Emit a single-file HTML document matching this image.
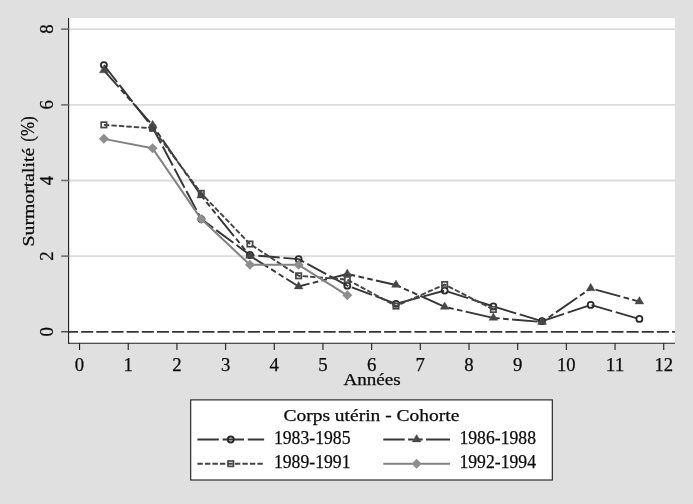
<!DOCTYPE html>
<html lang="fr"><head><meta charset="utf-8"><title>Surmortalité - Corps utérin - Cohorte</title>
<style>html,body{margin:0;padding:0;background:#e0e0e0;}body{width:693px;height:504px;overflow:hidden;font-family:"Liberation Serif",serif;}svg{display:block}svg text{stroke:#0a0a0a;stroke-width:0.25px;}</style>
</head><body>
<svg width="693" height="504" viewBox="0 0 693 504" font-family="'Liberation Serif', serif" fill="#0a0a0a">
<rect x="0" y="0" width="693" height="504" fill="#e0e0e0"/>
<rect x="68.6" y="18.1" width="606.4" height="325.10" fill="#fff"/>
<line x1="68.6" x2="675.0" y1="256.14" y2="256.14" stroke="#dbdbdb" stroke-width="1.8"/>
<line x1="68.6" x2="675.0" y1="180.48" y2="180.48" stroke="#dbdbdb" stroke-width="1.8"/>
<line x1="68.6" x2="675.0" y1="104.82" y2="104.82" stroke="#dbdbdb" stroke-width="1.8"/>
<line x1="68.6" x2="675.0" y1="29.16" y2="29.16" stroke="#dbdbdb" stroke-width="1.8"/>
<line x1="68.6" x2="675.0" y1="331.80" y2="331.80" stroke="#363636" stroke-width="1.75" stroke-dasharray="12.1 3.05" stroke-dashoffset="2.6"/>
<polyline points="103.90,65.10 152.58,127.52 201.26,219.07 249.94,255.01 298.62,259.17 347.30,285.65 395.98,303.81 444.66,290.57 493.34,306.45 542.02,321.21 590.70,304.94 639.38,318.94" fill="none" stroke="#363636" stroke-width="1.9" stroke-dasharray="21.4 3.78" stroke-dashoffset="0" stroke-linejoin="round"/>
<circle cx="103.90" cy="65.10" r="3.0" fill="none" stroke="#2a2a2a" stroke-width="1.8"/>
<circle cx="152.58" cy="127.52" r="3.0" fill="none" stroke="#2a2a2a" stroke-width="1.8"/>
<circle cx="201.26" cy="219.07" r="3.0" fill="none" stroke="#2a2a2a" stroke-width="1.8"/>
<circle cx="249.94" cy="255.01" r="3.0" fill="none" stroke="#2a2a2a" stroke-width="1.8"/>
<circle cx="298.62" cy="259.17" r="3.0" fill="none" stroke="#2a2a2a" stroke-width="1.8"/>
<circle cx="347.30" cy="285.65" r="3.0" fill="none" stroke="#2a2a2a" stroke-width="1.8"/>
<circle cx="395.98" cy="303.81" r="3.0" fill="none" stroke="#2a2a2a" stroke-width="1.8"/>
<circle cx="444.66" cy="290.57" r="3.0" fill="none" stroke="#2a2a2a" stroke-width="1.8"/>
<circle cx="493.34" cy="306.45" r="3.0" fill="none" stroke="#2a2a2a" stroke-width="1.8"/>
<circle cx="542.02" cy="321.21" r="3.0" fill="none" stroke="#2a2a2a" stroke-width="1.8"/>
<circle cx="590.70" cy="304.94" r="3.0" fill="none" stroke="#2a2a2a" stroke-width="1.8"/>
<circle cx="639.38" cy="318.94" r="3.0" fill="none" stroke="#2a2a2a" stroke-width="1.8"/>
<polyline points="103.90,70.47 152.58,125.32 201.26,195.69 249.94,255.84 298.62,286.48 347.30,274.00 395.98,284.97 444.66,306.91" fill="none" stroke="#363636" stroke-width="1.9" stroke-dasharray="25.7 3.4 5.6 3.4 5.6 3.4" stroke-dashoffset="3.3" stroke-linejoin="round"/>
<polyline points="444.66,306.91 493.34,317.88 542.02,322.04 590.70,288.37 639.38,301.61" fill="none" stroke="#363636" stroke-width="1.9" stroke-dasharray="25.7 3.4 5.6 3.4 5.6 3.4" stroke-dashoffset="25.5" stroke-linejoin="round"/>
<polygon points="103.90,65.47 108.30,72.87 99.50,72.87" fill="#474747" stroke="#474747" stroke-width="0.4"/>
<polygon points="152.58,120.32 156.98,127.72 148.18,127.72" fill="#474747" stroke="#474747" stroke-width="0.4"/>
<polygon points="201.26,190.69 205.66,198.09 196.86,198.09" fill="#474747" stroke="#474747" stroke-width="0.4"/>
<polygon points="249.94,250.84 254.34,258.24 245.54,258.24" fill="#474747" stroke="#474747" stroke-width="0.4"/>
<polygon points="298.62,281.48 303.02,288.88 294.22,288.88" fill="#474747" stroke="#474747" stroke-width="0.4"/>
<polygon points="347.30,269.00 351.70,276.40 342.90,276.40" fill="#474747" stroke="#474747" stroke-width="0.4"/>
<polygon points="395.98,279.97 400.38,287.37 391.58,287.37" fill="#474747" stroke="#474747" stroke-width="0.4"/>
<polygon points="444.66,301.91 449.06,309.31 440.26,309.31" fill="#474747" stroke="#474747" stroke-width="0.4"/>
<polygon points="493.34,312.88 497.74,320.28 488.94,320.28" fill="#474747" stroke="#474747" stroke-width="0.4"/>
<polygon points="542.02,317.04 546.42,324.44 537.62,324.44" fill="#474747" stroke="#474747" stroke-width="0.4"/>
<polygon points="590.70,283.37 595.10,290.77 586.30,290.77" fill="#474747" stroke="#474747" stroke-width="0.4"/>
<polygon points="639.38,296.61 643.78,304.01 634.98,304.01" fill="#474747" stroke="#474747" stroke-width="0.4"/>
<polyline points="103.90,124.87 152.58,128.27 201.26,193.34 249.94,244.03 298.62,275.81 347.30,279.59 395.98,306.08 444.66,284.51 493.34,309.48" fill="none" stroke="#444444" stroke-width="1.9" stroke-dasharray="5.4 2.1" stroke-dashoffset="0" stroke-linejoin="round"/>
<rect x="101.20" y="122.17" width="5.4" height="5.4" fill="none" stroke="#474747" stroke-width="1.7"/>
<rect x="149.88" y="125.57" width="5.4" height="5.4" fill="none" stroke="#474747" stroke-width="1.7"/>
<rect x="198.56" y="190.64" width="5.4" height="5.4" fill="none" stroke="#474747" stroke-width="1.7"/>
<rect x="247.24" y="241.33" width="5.4" height="5.4" fill="none" stroke="#474747" stroke-width="1.7"/>
<rect x="295.92" y="273.11" width="5.4" height="5.4" fill="none" stroke="#474747" stroke-width="1.7"/>
<rect x="344.60" y="276.89" width="5.4" height="5.4" fill="none" stroke="#474747" stroke-width="1.7"/>
<rect x="393.28" y="303.38" width="5.4" height="5.4" fill="none" stroke="#474747" stroke-width="1.7"/>
<rect x="441.96" y="281.81" width="5.4" height="5.4" fill="none" stroke="#474747" stroke-width="1.7"/>
<rect x="490.64" y="306.78" width="5.4" height="5.4" fill="none" stroke="#474747" stroke-width="1.7"/>
<polyline points="103.90,138.87 152.58,148.32 201.26,219.07 249.94,264.84 298.62,264.84 347.30,295.29" fill="none" stroke="#828282" stroke-width="2.0" stroke-linejoin="round"/>
<polygon points="103.90,133.87 108.90,138.87 103.90,143.87 98.90,138.87" fill="#8e8e8e"/>
<polygon points="152.58,143.32 157.58,148.32 152.58,153.32 147.58,148.32" fill="#8e8e8e"/>
<polygon points="201.26,214.07 206.26,219.07 201.26,224.07 196.26,219.07" fill="#8e8e8e"/>
<polygon points="249.94,259.84 254.94,264.84 249.94,269.84 244.94,264.84" fill="#8e8e8e"/>
<polygon points="298.62,259.84 303.62,264.84 298.62,269.84 293.62,264.84" fill="#8e8e8e"/>
<polygon points="347.30,290.29 352.30,295.29 347.30,300.29 342.30,295.29" fill="#8e8e8e"/>
<line x1="68.6" x2="68.6" y1="18.1" y2="343.7" stroke="#1c1c1c" stroke-width="1.1"/>
<line x1="68.1" x2="675.0" y1="343.2" y2="343.2" stroke="#1c1c1c" stroke-width="1.1"/>
<line x1="61.2" x2="68.6" y1="331.80" y2="331.80" stroke="#1c1c1c" stroke-width="1.1"/>
<text transform="translate(52.9,331.8) rotate(-90)" text-anchor="middle" font-size="19.3" textLength="9.4" lengthAdjust="spacingAndGlyphs">0</text>
<line x1="61.2" x2="68.6" y1="256.14" y2="256.14" stroke="#747474" stroke-width="1.7"/>
<text transform="translate(52.9,256.14) rotate(-90)" text-anchor="middle" font-size="19.3" textLength="9.4" lengthAdjust="spacingAndGlyphs">2</text>
<line x1="61.2" x2="68.6" y1="180.48" y2="180.48" stroke="#747474" stroke-width="1.7"/>
<text transform="translate(52.9,180.48) rotate(-90)" text-anchor="middle" font-size="19.3" textLength="9.4" lengthAdjust="spacingAndGlyphs">4</text>
<line x1="61.2" x2="68.6" y1="104.82" y2="104.82" stroke="#747474" stroke-width="1.7"/>
<text transform="translate(52.9,104.82) rotate(-90)" text-anchor="middle" font-size="19.3" textLength="9.4" lengthAdjust="spacingAndGlyphs">6</text>
<line x1="61.2" x2="68.6" y1="29.16" y2="29.16" stroke="#747474" stroke-width="1.7"/>
<text transform="translate(52.9,29.16) rotate(-90)" text-anchor="middle" font-size="19.3" textLength="9.4" lengthAdjust="spacingAndGlyphs">8</text>
<line x1="79.56" x2="79.56" y1="343.2" y2="350" stroke="#1c1c1c" stroke-width="1.1"/>
<text x="79.56" y="371.2" text-anchor="middle" font-size="19.3" textLength="9.4" lengthAdjust="spacingAndGlyphs">0</text>
<line x1="128.24" x2="128.24" y1="343.2" y2="350" stroke="#1c1c1c" stroke-width="1.1"/>
<text x="128.24" y="371.2" text-anchor="middle" font-size="19.3" textLength="9.4" lengthAdjust="spacingAndGlyphs">1</text>
<line x1="176.92" x2="176.92" y1="343.2" y2="350" stroke="#1c1c1c" stroke-width="1.1"/>
<text x="176.92" y="371.2" text-anchor="middle" font-size="19.3" textLength="9.4" lengthAdjust="spacingAndGlyphs">2</text>
<line x1="225.60" x2="225.60" y1="343.2" y2="350" stroke="#1c1c1c" stroke-width="1.1"/>
<text x="225.6" y="371.2" text-anchor="middle" font-size="19.3" textLength="9.4" lengthAdjust="spacingAndGlyphs">3</text>
<line x1="274.28" x2="274.28" y1="343.2" y2="350" stroke="#1c1c1c" stroke-width="1.1"/>
<text x="274.28" y="371.2" text-anchor="middle" font-size="19.3" textLength="9.4" lengthAdjust="spacingAndGlyphs">4</text>
<line x1="322.96" x2="322.96" y1="343.2" y2="350" stroke="#1c1c1c" stroke-width="1.1"/>
<text x="322.96" y="371.2" text-anchor="middle" font-size="19.3" textLength="9.4" lengthAdjust="spacingAndGlyphs">5</text>
<line x1="371.64" x2="371.64" y1="343.2" y2="350" stroke="#1c1c1c" stroke-width="1.1"/>
<text x="371.64" y="371.2" text-anchor="middle" font-size="19.3" textLength="9.4" lengthAdjust="spacingAndGlyphs">6</text>
<line x1="420.32" x2="420.32" y1="343.2" y2="350" stroke="#1c1c1c" stroke-width="1.1"/>
<text x="420.32" y="371.2" text-anchor="middle" font-size="19.3" textLength="9.4" lengthAdjust="spacingAndGlyphs">7</text>
<line x1="469.00" x2="469.00" y1="343.2" y2="350" stroke="#1c1c1c" stroke-width="1.1"/>
<text x="469.0" y="371.2" text-anchor="middle" font-size="19.3" textLength="9.4" lengthAdjust="spacingAndGlyphs">8</text>
<line x1="517.68" x2="517.68" y1="343.2" y2="350" stroke="#1c1c1c" stroke-width="1.1"/>
<text x="517.68" y="371.2" text-anchor="middle" font-size="19.3" textLength="9.4" lengthAdjust="spacingAndGlyphs">9</text>
<line x1="566.36" x2="566.36" y1="343.2" y2="350" stroke="#1c1c1c" stroke-width="1.1"/>
<text x="566.36" y="371.2" text-anchor="middle" font-size="19.3" textLength="18.6" lengthAdjust="spacingAndGlyphs">10</text>
<line x1="615.04" x2="615.04" y1="343.2" y2="350" stroke="#1c1c1c" stroke-width="1.1"/>
<text x="615.04" y="371.2" text-anchor="middle" font-size="19.3" textLength="18.6" lengthAdjust="spacingAndGlyphs">11</text>
<line x1="663.72" x2="663.72" y1="343.2" y2="350" stroke="#1c1c1c" stroke-width="1.1"/>
<text x="663.72" y="371.2" text-anchor="middle" font-size="19.3" textLength="18.6" lengthAdjust="spacingAndGlyphs">12</text>
<text x="372" y="385.2" text-anchor="middle" font-size="17.3" textLength="57.2" lengthAdjust="spacingAndGlyphs">Années</text>
<text transform="translate(33.9,246.4) rotate(-90)"><tspan x="0" font-size="17.3" textLength="98.6" lengthAdjust="spacingAndGlyphs">Surmortalité</tspan><tspan font-size="17.3"> </tspan><tspan x="104.7" font-size="19.3" textLength="25.3" lengthAdjust="spacingAndGlyphs">(%)</tspan></text>
<rect x="190.7" y="399.9" width="361.6" height="80.1" fill="#fff" stroke="#1c1c1c" stroke-width="1.1"/>
<text x="371.4" y="421.3" text-anchor="middle" font-size="17.3" textLength="176" lengthAdjust="spacingAndGlyphs">Corps utérin - Cohorte</text>
<polyline points="197.40,439.50 230.75,439.50 264.10,439.50" fill="none" stroke="#363636" stroke-width="1.9" stroke-dasharray="21.4 3.78" stroke-dashoffset="0" stroke-linejoin="round"/><circle cx="230.75" cy="439.50" r="3.0" fill="none" stroke="#2a2a2a" stroke-width="1.8"/>
<polyline points="197.40,463.70 230.75,463.70 264.10,463.70" fill="none" stroke="#444444" stroke-width="1.9" stroke-dasharray="5.4 2.1" stroke-dashoffset="0" stroke-linejoin="round"/><rect x="228.05" y="461.00" width="5.4" height="5.4" fill="none" stroke="#474747" stroke-width="1.7"/>
<polyline points="383.30,439.50 416.65,439.50 450.00,439.50" fill="none" stroke="#363636" stroke-width="1.9" stroke-dasharray="25.7 3.4 5.6 3.4 5.6 3.4" stroke-dashoffset="4.3" stroke-linejoin="round"/><polygon points="416.65,434.50 421.05,441.90 412.25,441.90" fill="#474747" stroke="#474747" stroke-width="0.4"/>
<polyline points="383.30,463.70 416.65,463.70 450.00,463.70" fill="none" stroke="#828282" stroke-width="1.9" stroke-linejoin="round"/><polygon points="416.65,458.70 421.65,463.70 416.65,468.70 411.65,463.70" fill="#8e8e8e"/>
<text x="273.9" y="443.8" text-anchor="start" font-size="19.3" textLength="76.6" lengthAdjust="spacingAndGlyphs">1983-1985</text>
<text x="273.9" y="468.2" text-anchor="start" font-size="19.3" textLength="76.6" lengthAdjust="spacingAndGlyphs">1989-1991</text>
<text x="459.4" y="443.8" text-anchor="start" font-size="19.3" textLength="76.6" lengthAdjust="spacingAndGlyphs">1986-1988</text>
<text x="459.4" y="468.2" text-anchor="start" font-size="19.3" textLength="76.6" lengthAdjust="spacingAndGlyphs">1992-1994</text>
</svg>
</body></html>
